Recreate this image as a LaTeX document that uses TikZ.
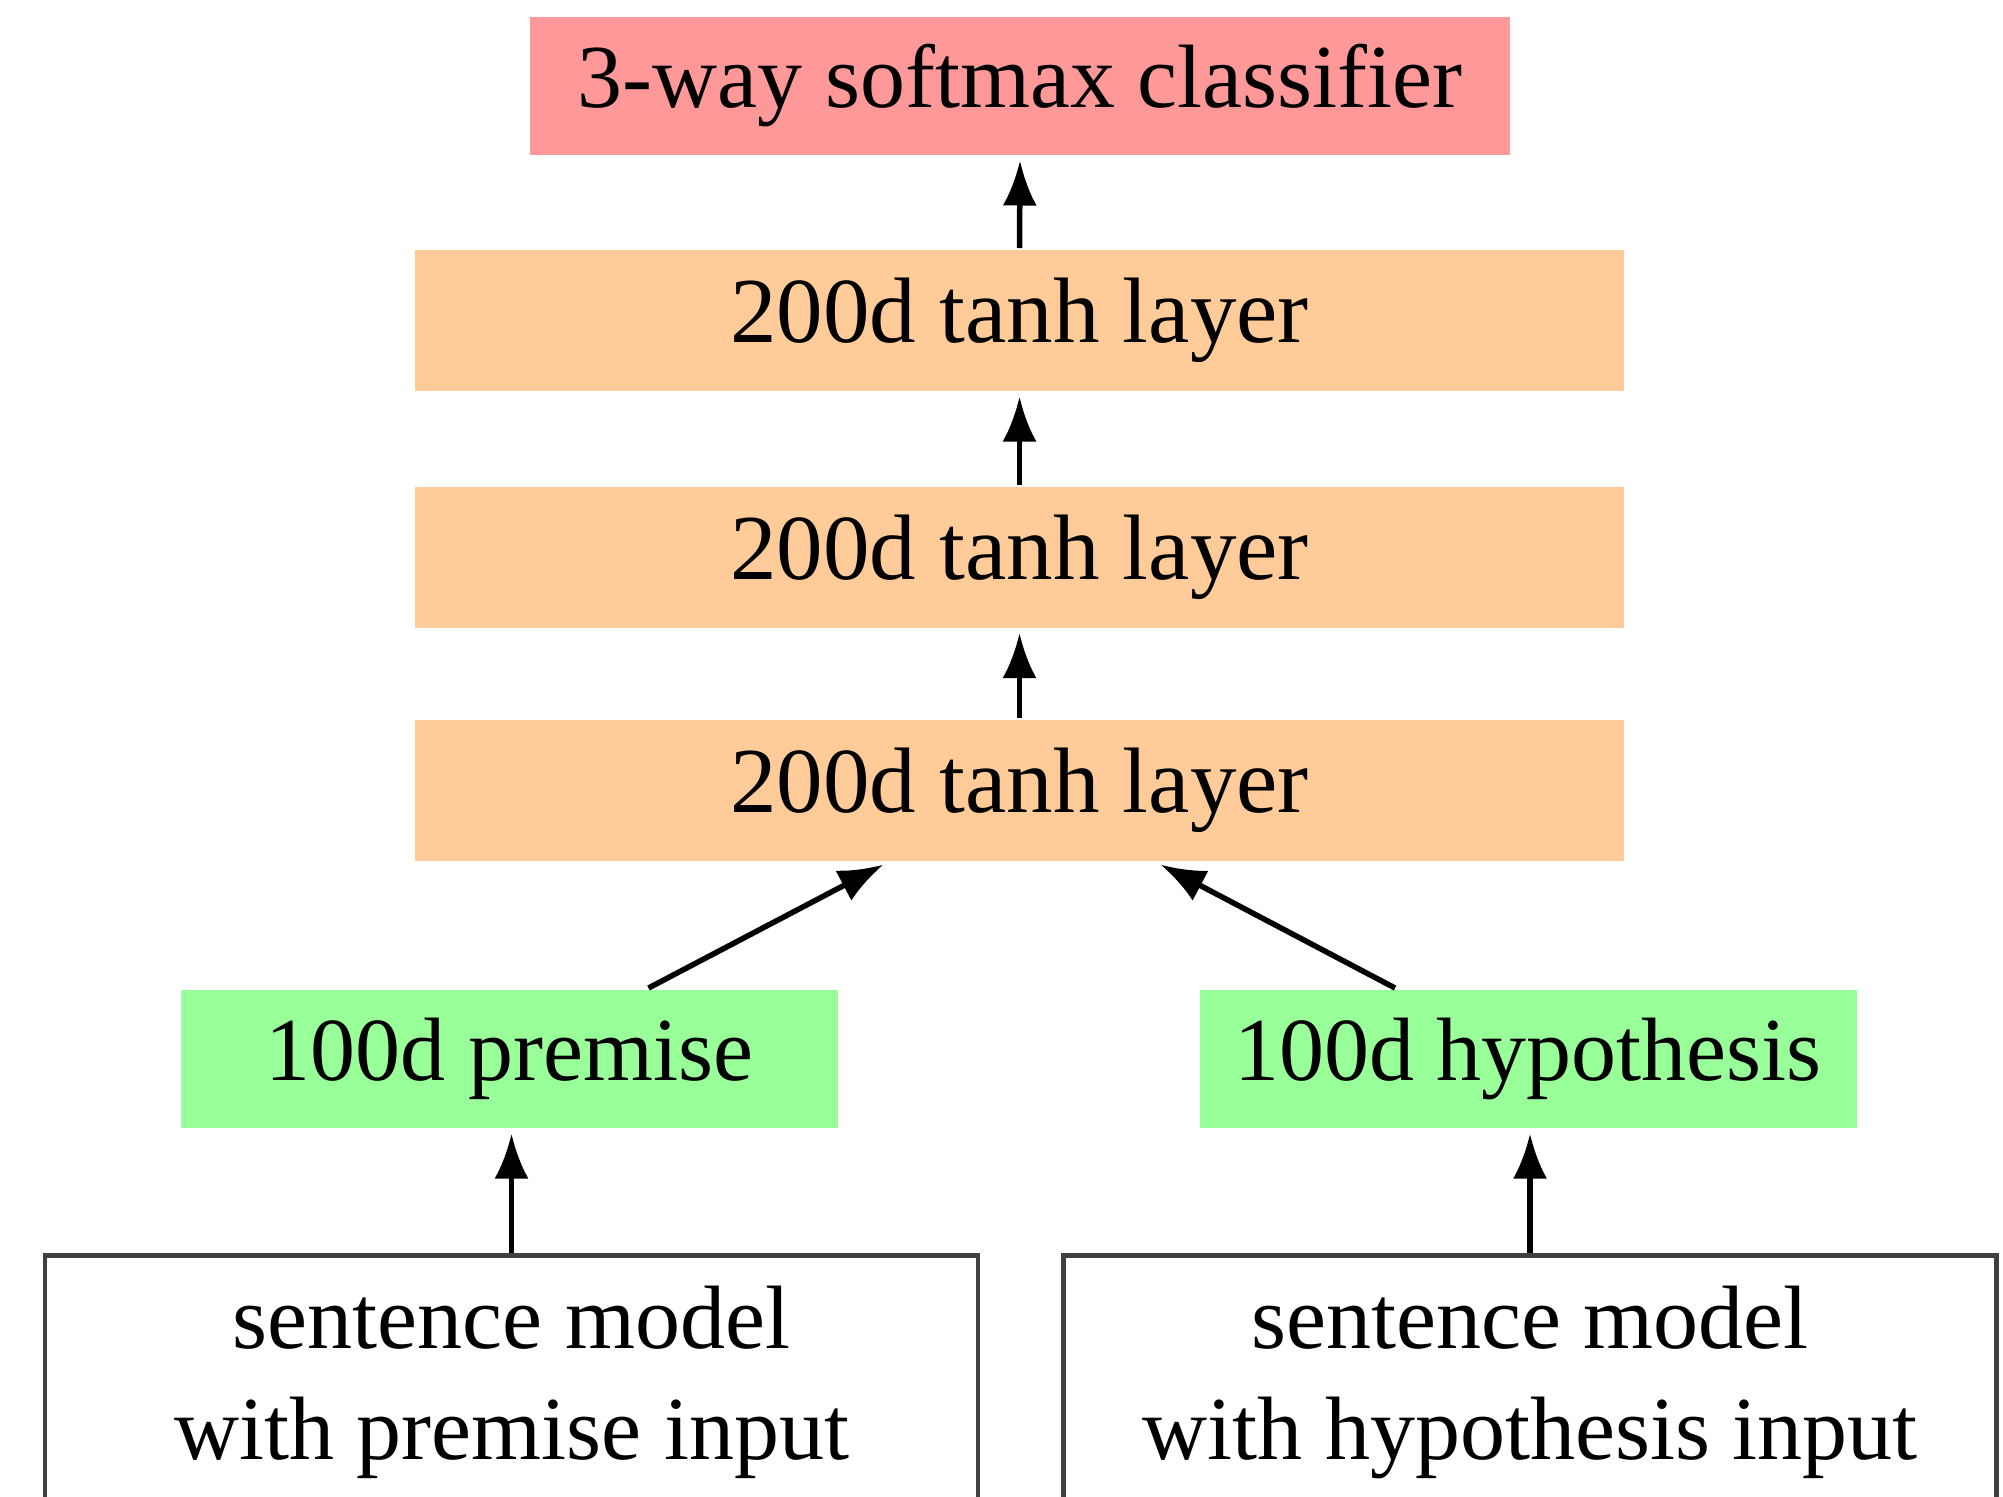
\documentclass[tikz,border=0pt]{standalone}
\usepackage{fontspec}
\setmainfont{Liberation Serif}
\usetikzlibrary{arrows.meta}
\definecolor{softc}{RGB}{255,153,153}
\definecolor{tanhc}{RGB}{255,204,153}
\definecolor{vecc}{RGB}{153,255,153}
\begin{document}
\begin{tikzpicture}[x=0.1pt,y=-0.1pt,
  every node/.style={font=\fontsize{9.0}{11.1}\selectfont, inner sep=0pt},
  softbox/.style={fill=softc, minimum width=98pt, minimum height=13.8pt},
  tanhbox/.style={fill=tanhc, minimum width=120.9pt, minimum height=14.1pt, font=\fontsize{9.3}{11.1}\selectfont},
  vecbox/.style={fill=vecc, minimum width=65.7pt, minimum height=13.8pt},
  inbox/.style={draw=black!75, line width=0.45pt, minimum width=93.3pt, minimum height=30pt, anchor=north},
  intext/.style={align=center},
  arr/.style={-{Latex[length=4.5pt,width=3.4pt]}, line width=0.55pt, shorten >=0.35pt}
]
\useasboundingbox (0,0) rectangle (2003,1496);
\node[softbox] (soft) at (1020,86) {3-way softmax classifier};
\node[tanhbox] (t1) at (1019.5,320.5) {200d tanh layer};
\node[tanhbox] (t2) at (1019.5,557) {200d tanh layer};
\node[tanhbox] (t3) at (1019.5,790.5) {200d tanh layer};
\node[vecbox] (prem) at (509.5,1059) {100d premise};
\node[vecbox] (hyp) at (1528,1059) {100d hypothesis};
\node[inbox] (pinbox) at (511.5,1253) {};
\node[inbox] (hinbox) at (1530,1253) {};
\node[intext] (pintext) at (511.5,1382) {sentence model\\with premise input};
\node[intext] (hintext) at (1530,1382) {sentence model\\with hypothesis input};
\draw[arr] (t1.north) -- (soft.south);
\draw[arr] (t2.north) -- (t1.south);
\draw[arr] (t3.north) -- (t2.south);
\draw[arr] ([xshift=13.9pt]prem.north) -- ([xshift=-13.3pt]t3.south);
\draw[arr] ([xshift=-13.3pt]hyp.north) -- ([xshift=13.8pt]t3.south);
\draw[arr] (pinbox.north) -- (pinbox.north |- prem.south);
\draw[arr] (hinbox.north) -- (hinbox.north |- hyp.south);
\end{tikzpicture}
\end{document}
